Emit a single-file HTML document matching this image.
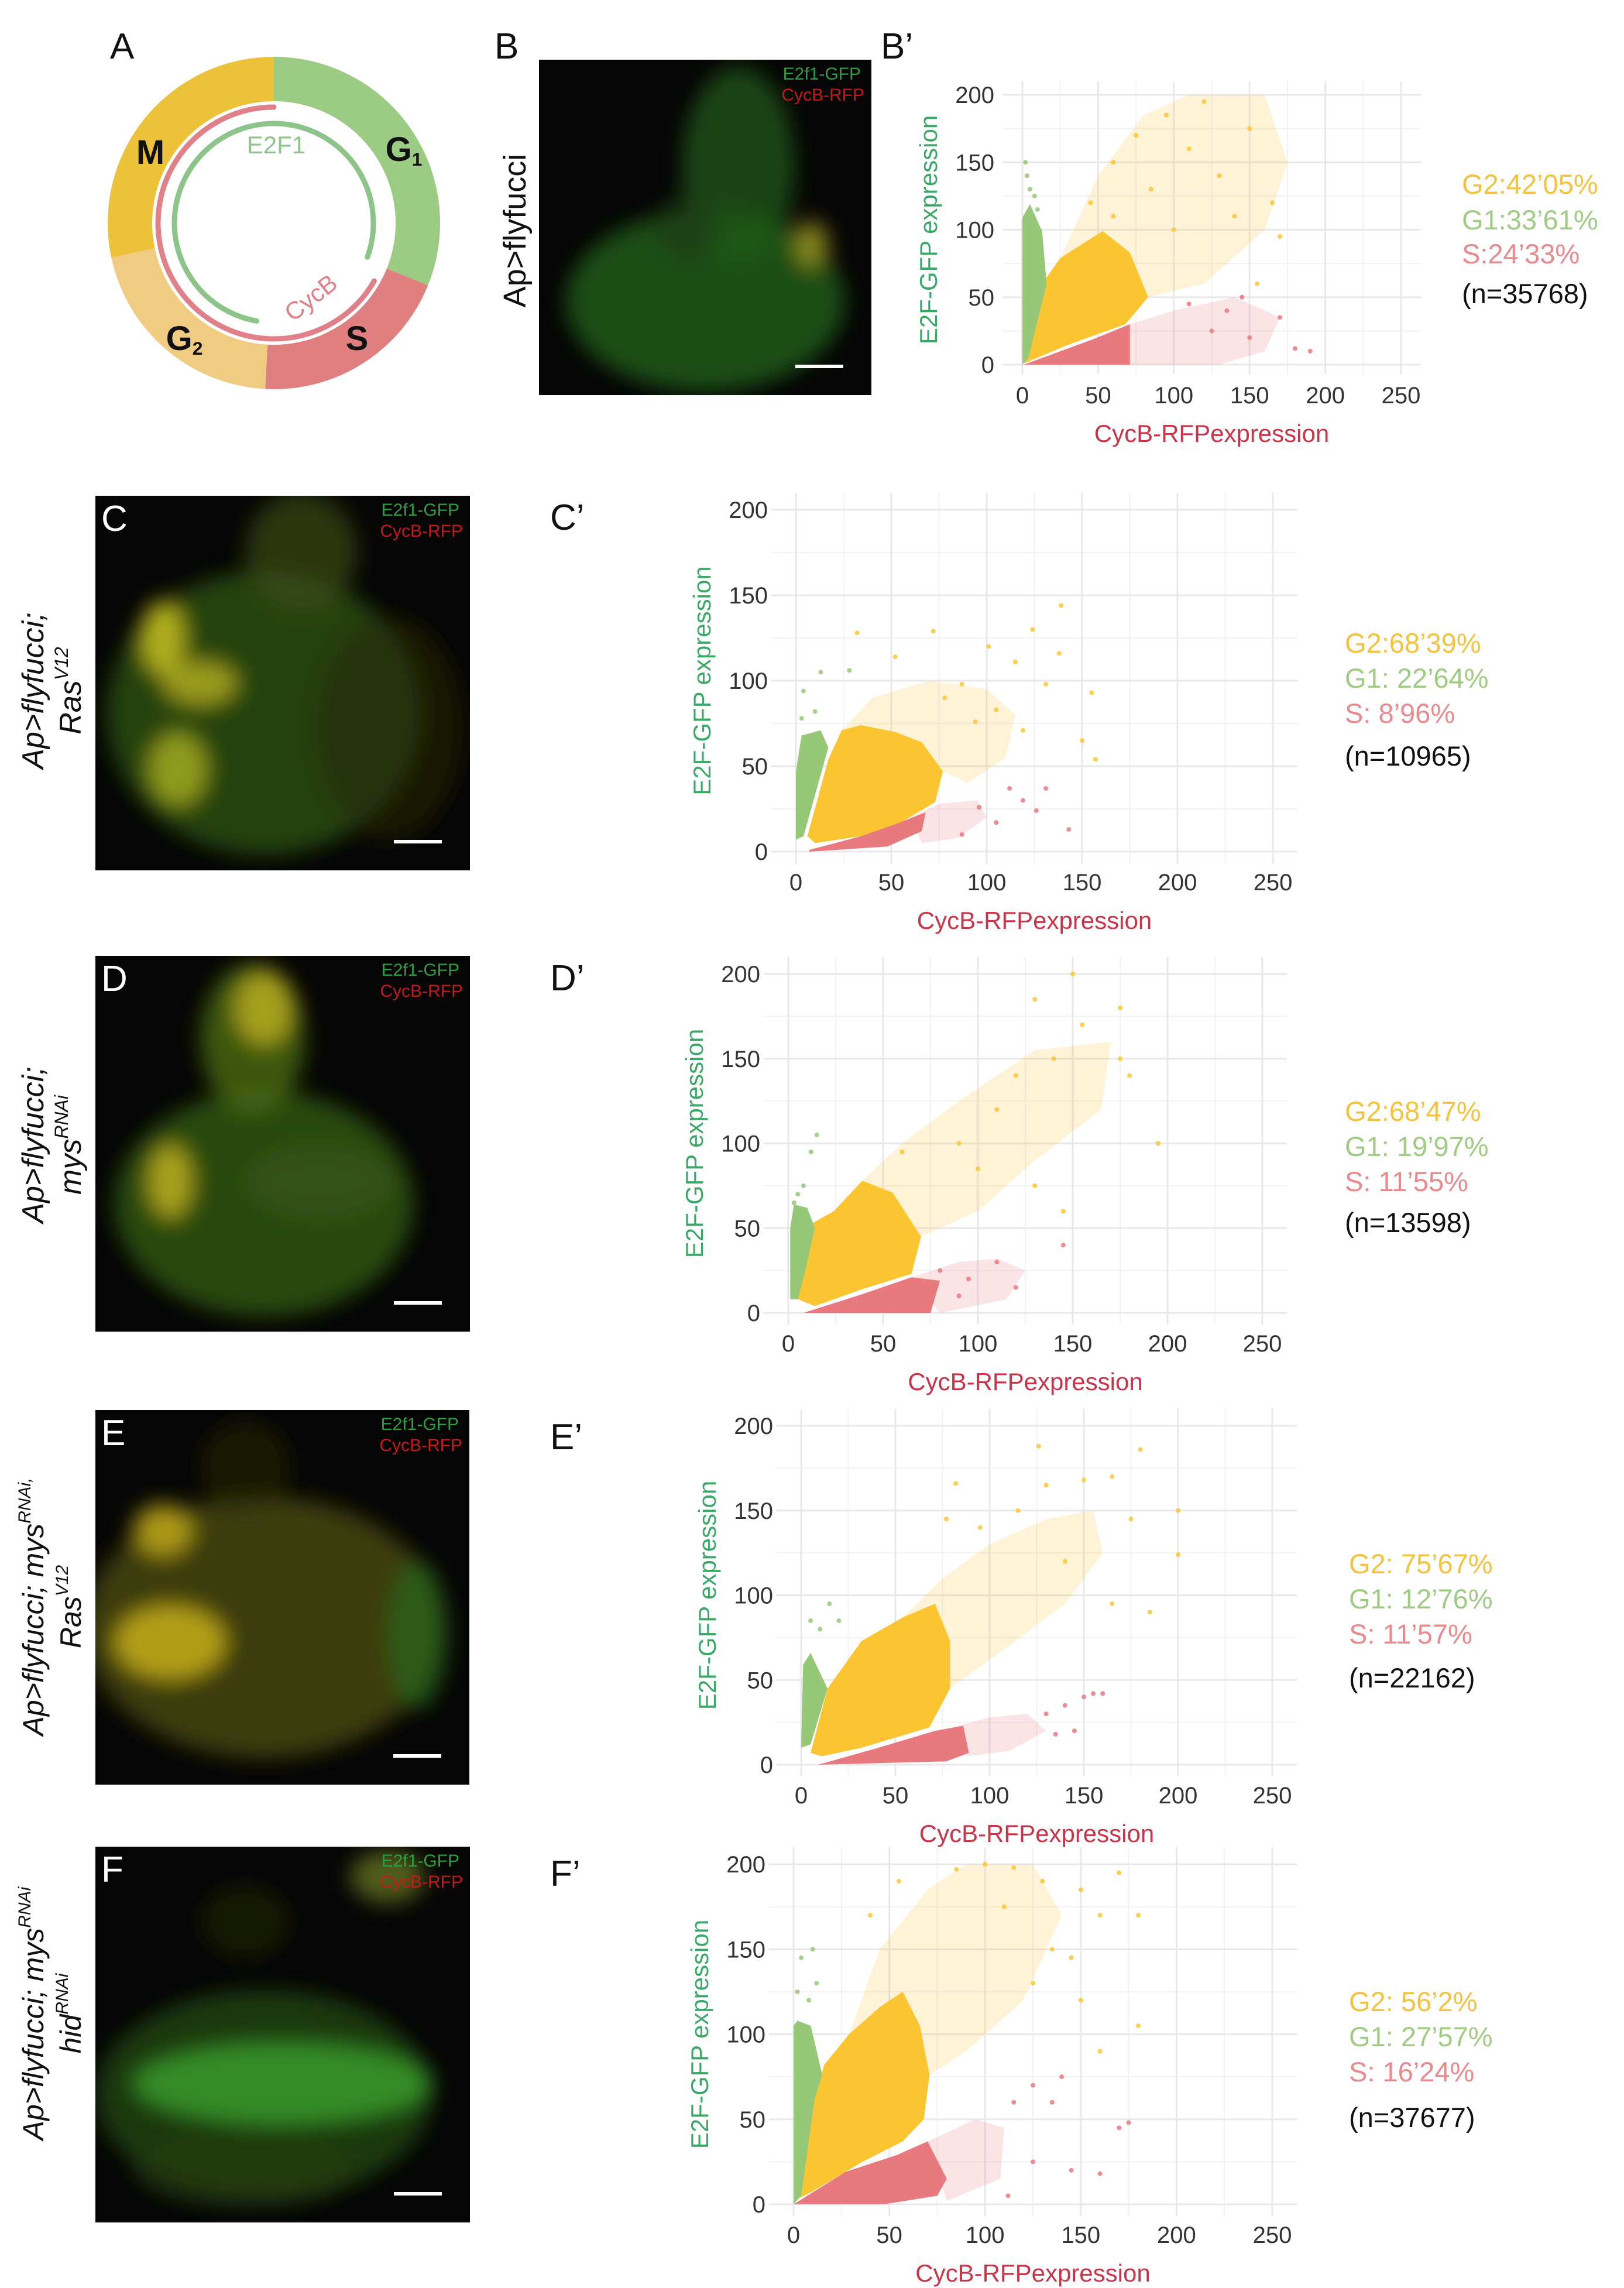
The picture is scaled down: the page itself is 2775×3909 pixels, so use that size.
<!DOCTYPE html>
<html><head><meta charset="utf-8"><style>
html,body{margin:0;padding:0;background:#fff}
svg{display:block}
text{font-family:"Liberation Sans",Arial,sans-serif}
</style></head><body>
<svg id="fig" xmlns="http://www.w3.org/2000/svg" width="2775" height="3909" viewBox="0 0 2775 3909">
<defs id="defs">
<filter id="blur" x="-20%" y="-20%" width="140%" height="140%"><feGaussianBlur stdDeviation="18"/></filter>
</defs>
<rect x="0" y="0" width="2775" height="3909" fill="#ffffff"/>

<g id="diagram">
<text x="188" y="100" font-size="62" fill="#111">A</text>
</g>

<text x="845" y="100" font-size="62" fill="#111">B</text>
<text x="1505" y="100" font-size="62" fill="#111">B’</text>
<text x="940" y="905" font-size="62" fill="#111">C’</text>
<text x="940" y="1692" font-size="62" fill="#111">D’</text>
<text x="940" y="2476" font-size="62" fill="#111">E’</text>
<text x="940" y="3222" font-size="62" fill="#111">F’</text>

<text transform="translate(898,394) rotate(-90)" text-anchor="middle" font-size="54" fill="#111">Ap&gt;flyfucci</text>
<g font-style="italic" font-size="52" fill="#111">
<text transform="translate(74,1180) rotate(-90)" text-anchor="middle">Ap&gt;flyfucci;</text>
<text transform="translate(138,1180) rotate(-90)" text-anchor="middle">Ras<tspan font-size="32" dy="-22">V12</tspan></text>
</g>
<g font-style="italic" font-size="52" fill="#111">
<text transform="translate(74,1956) rotate(-90)" text-anchor="middle">Ap&gt;flyfucci;</text>
<text transform="translate(138,1956) rotate(-90)" text-anchor="middle">mys<tspan font-size="32" dy="-22">RNAi</tspan></text>
</g>
<g font-style="italic" font-size="50" fill="#111">
<text transform="translate(74,2745) rotate(-90)" text-anchor="middle">Ap&gt;flyfucci; mys<tspan font-size="30" dy="-22">RNAi,</tspan></text>
<text transform="translate(138,2745) rotate(-90)" text-anchor="middle">Ras<tspan font-size="30" dy="-22">V12</tspan></text>
</g>
<g font-style="italic" font-size="50" fill="#111">
<text transform="translate(74,3440) rotate(-90)" text-anchor="middle">Ap&gt;flyfucci; mys<tspan font-size="30" dy="-22">RNAi</tspan></text>
<text transform="translate(138,3440) rotate(-90)" text-anchor="middle">hid<tspan font-size="30" dy="-22">RNAi</tspan></text>
</g>

<g id="images"></g>
<g id="charts"></g>
</svg>

<script>
const xTicks = [0, 50, 100, 150, 200, 250];
const yTicks = [0, 50, 100, 150, 200];
const xTickLabels = ["0", "50", "100", "150", "200", "250"];
const yTickLabels = ["0", "50", "100", "150", "200"];

const bG1Core = [[0,0],[0,109],[5,119],[13,99],[16,60],[4,5]];
const bG2Core = [[1,1],[13,60],[25,79],[53,99],[71,83],[83,50],[68,30],[31,15]];
const bG2Faint = [[25,79],[50,140],[80,185],[110,200],[160,200],[175,150],[160,100],[120,60],[83,50],[53,99]];
const bSCore = [[1,0],[47,19],[71,30],[71,0]];
const bSFaint = [[71,30],[100,40],[140,50],[170,35],[160,10],[130,0],[71,0]];
const bG2Pts = [[60,150],[75,170],[95,185],[110,160],[130,140],[150,175],[120,195],[85,130],[140,110],[165,120],[100,100],[45,120],[170,95],[155,60],[60,110]];
const bSPts = [[110,45],[135,40],[150,20],[170,35],[180,12],[125,25],[145,50],[190,10]];
const bG1Pts = [[3,140],[5,130],[8,125],[2,150],[10,115]];
const bLegend = ["G2:42’05%", "G1:33’61%", "S:24’33%", "(n=35768)"];

const cG1Core = [[0,7],[0,47],[3,68],[13,71],[17,61],[10,33],[4,9]];
const cG2Core = [[6,9],[17,54],[24,71],[34,74],[52,70],[66,64],[77,47],[73,29],[55,17],[34,9],[10,5]];
const cG2Faint = [[24,71],[40,90],[70,100],[100,95],[115,80],[110,55],[90,40],[77,47],[66,64]];
const cSCore = [[7,1],[34,9],[52,16],[68,23],[66,12],[48,3],[7,0]];
const cSFaint = [[60,20],[75,28],[95,30],[100,20],[85,8],[66,5]];
const cG2Pts = [[139,144],[124,130],[32,128],[72,129],[138,116],[101,120],[155,93],[150,65],[157,54],[115,111],[131,98],[87,98],[52,114],[105,83],[94,76],[119,71],[78,90]];
const cSPts = [[131,37],[119,30],[126,24],[105,17],[96,26],[143,13],[87,10],[112,37]];
const cG1Pts = [[13,105],[4,94],[28,106],[3,78],[10,82]];
const cLegend = ["G2:68’39%", "G1: 22’64%", "S: 8’96%", "(n=10965)"];

const dG1Core = [[1,8],[1,50],[3,64],[10,62],[14,50],[9,25],[5,8]];
const dG2Core = [[3,9],[8,50],[24,60],[39,78],[55,71],[70,45],[65,23],[39,14],[14,4]];
const dG2Faint = [[39,78],[60,100],[90,125],[130,155],[170,160],[165,120],[130,90],[100,60],[70,45],[55,71]];
const dSCore = [[8,0],[39,11],[65,21],[80,19],[75,0]];
const dSFaint = [[65,21],[90,30],[110,32],[125,25],[115,8],[80,0]];
const dG2Pts = [[150,200],[130,185],[175,180],[155,170],[140,150],[120,140],[110,120],[175,150],[180,140],[90,100],[195,100],[100,85],[60,95],[145,60],[130,75]];
const dSPts = [[80,25],[95,20],[110,30],[90,10],[120,15],[145,40]];
const dG1Pts = [[5,70],[8,75],[3,65],[12,95],[15,105]];
const dLegend = ["G2:68’47%", "G1: 19’97%", "S: 11’55%", "(n=13598)"];

const eG1Core = [[0,10],[1,59],[5,66],[14,45],[5,12]];
const eG2Core = [[5,7],[14,45],[32,73],[54,87],[71,95],[79,73],[79,45],[68,22],[32,10],[11,5]];
const eG2Faint = [[54,87],[75,110],[100,130],[130,145],[155,150],[160,125],[140,95],[110,70],[79,45],[79,73]];
const eSCore = [[9,0],[41,10],[71,20],[86,23],[89,7],[77,2]];
const eSFaint = [[80,22],[100,28],[120,30],[130,20],[110,8],[88,5]];
const eG2Pts = [[126,188],[180,186],[82,166],[130,165],[150,168],[165,170],[77,145],[140,120],[175,145],[200,150],[200,124],[185,90],[165,95],[115,150],[95,140]];
const eSPts = [[150,40],[155,42],[140,35],[130,30],[145,20],[135,18],[160,42]];
const eG1Pts = [[5,85],[10,80],[15,95],[20,85]];
const eLegend = ["G2: 75’67%", "G1: 12’76%", "S: 11’57%", "(n=22162)"];

const fG1Core = [[0,0],[0,105],[2,108],[9,105],[15,76],[11,62],[4,5]];
const fG2Core = [[0,2],[11,62],[16,82],[29,100],[45,116],[57,125],[66,105],[71,76],[68,50],[57,37],[36,25],[9,7]];
const fG2Faint = [[29,100],[45,150],[70,185],[90,200],[125,200],[140,170],[120,120],[90,90],[71,76],[66,105],[57,125]];
const fSCore = [[0,0],[27,19],[54,29],[70,37],[80,15],[75,5],[47,0]];
const fSFaint = [[70,37],[95,50],[110,45],[108,15],[80,2]];
const fG2Pts = [[85,197],[100,200],[115,198],[130,190],[150,185],[160,170],[170,195],[180,170],[135,150],[150,120],[160,90],[180,105],[125,130],[145,145],[110,175],[40,170],[55,190]];
const fSPts = [[125,70],[135,60],[140,75],[115,60],[125,25],[145,20],[160,18],[170,45],[175,48],[112,5]];
const fG1Pts = [[4,145],[10,150],[2,125],[12,130],[8,120]];
const fLegend = ["G2: 56’2%", "G1: 27’57%", "S: 16’24%", "(n=37677)"];

const panels = [
  {id:"b", frame:{x0:1747,x250:2394,y0:623,y200:162}, leg:{x:2498,y:[331,392,450,518]},
   g1:bG1Core,g2:bG2Core,g2f:bG2Faint,s:bSCore,sf:bSFaint,g2p:bG2Pts,sp:bSPts,g1p:bG1Pts,legend:bLegend},
  {id:"c", frame:{x0:1360,x250:2175,y0:1455,y200:871}, leg:{x:2298,y:[1115,1175,1235,1308]},
   g1:cG1Core,g2:cG2Core,g2f:cG2Faint,s:cSCore,sf:cSFaint,g2p:cG2Pts,sp:cSPts,g1p:cG1Pts,legend:cLegend},
  {id:"d", frame:{x0:1347,x250:2157,y0:2243,y200:1664}, leg:{x:2298,y:[1915,1975,2035,2105]},
   g1:dG1Core,g2:dG2Core,g2f:dG2Faint,s:dSCore,sf:dSFaint,g2p:dG2Pts,sp:dSPts,g1p:dG1Pts,legend:dLegend},
  {id:"e", frame:{x0:1369,x250:2174,y0:3015,y200:2436}, leg:{x:2305,y:[2688,2748,2808,2883]},
   g1:eG1Core,g2:eG2Core,g2f:eG2Faint,s:eSCore,sf:eSFaint,g2p:eG2Pts,sp:eSPts,g1p:eG1Pts,legend:eLegend},
  {id:"f", frame:{x0:1356,x250:2174,y0:3766,y200:3185}, leg:{x:2305,y:[3436,3496,3556,3634]},
   g1:fG1Core,g2:fG2Core,g2f:fG2Faint,s:fSCore,sf:fSFaint,g2p:fG2Pts,sp:fSPts,g1p:fG1Pts,legend:fLegend}
];

const NS = "http://www.w3.org/2000/svg";
const COL = {g2:"#fbc532", g1:"#96c878", s:"#e8797f", g2t:"#f4c23e", g1t:"#9fcb82", st:"#e98a8e"};
function mk(tag, attrs, parent){ const e=document.createElementNS(NS,tag); for(const k in attrs) e.setAttribute(k,attrs[k]); if(parent) parent.appendChild(e); return e; }

function drawPanel(p){
  const f=p.frame;
  const X=v=>f.x0+(f.x250-f.x0)*v/250;
  const Y=v=>f.y0-(f.y0-f.y200)*v/200;
  const g=mk("g",{},document.getElementById("charts"));
  
  
  const grid=mk("g",{},g);
  
  
  for(let v=25; v<250; v+=50){ mk("line",{x1:X(v),x2:X(v),y1:Y(-7),y2:Y(210),stroke:"#f2f2f4","stroke-width":2},grid); }
  for(let v=25; v<200; v+=50){ mk("line",{x1:X(-13),x2:X(263),y1:Y(v),y2:Y(v),stroke:"#f2f2f4","stroke-width":2},grid); }
  xTicks.forEach(v=>mk("line",{x1:X(v),x2:X(v),y1:Y(-7),y2:Y(210),stroke:"#e8e8ec","stroke-width":3},grid));
  yTicks.forEach(v=>mk("line",{x1:X(-13),x2:X(263),y1:Y(v),y2:Y(v),stroke:"#e8e8ec","stroke-width":3},grid));
  const poly=(pts,fill,op,name)=>{ const e=mk("polygon",{points:pts.map(q=>X(q[0])+","+Y(q[1])).join(" "),fill:fill,"fill-opacity":op},g);
    
     };
  poly(p.g2f,COL.g2,0.2,"g2-sparse-cloud");
  poly(p.sf,COL.s,0.2,"s-sparse-cloud");
  poly(p.g2,COL.g2,1,"g2-dense-cloud");
  poly(p.g1,COL.g1,1,"g1-dense-cloud");
  poly(p.s,COL.s,1,"s-dense-cloud");
  const dots=(pts,fill,name)=>pts.forEach(q=>{ const c=mk("circle",{cx:X(q[0]),cy:Y(q[1]),r:4,fill:fill,"fill-opacity":0.85},g);
    
     });
  dots(p.g2p,COL.g2,"g2-point"); dots(p.sp,COL.s,"s-point"); dots(p.g1p,COL.g1,"g1-point");
  xTicks.forEach((v,i)=>{ const t=mk("text",{x:X(v),y:f.y0+66,"text-anchor":"middle","font-size":40,fill:"#333"},g); t.textContent=xTickLabels[i];
    
     });
  yTicks.forEach((v,i)=>{ const t=mk("text",{x:f.x0-48,y:Y(v)+14,"text-anchor":"end","font-size":40,fill:"#333"},g); t.textContent=yTickLabels[i];
    
     });
  const xt=mk("text",{x:X(125),y:f.y0+132,"text-anchor":"middle","font-size":42,fill:"#c8354a"},g); xt.textContent="CycB-RFPexpression";
  
  
  const ym=(f.y0+f.y200)/2;
  const yt=mk("text",{transform:`translate(${f.x0-146},${ym}) rotate(-90)`,"text-anchor":"middle","font-size":42,fill:"#3aa866"},g); yt.textContent="E2F-GFP expression";
  
  
  const lc=[COL.g2t,COL.g1t,COL.st,"#111"];
  const ln=['legend-g2','legend-g1','legend-s','legend-n'];
  p.legend.forEach((s,i)=>{ const t=mk("text",{x:p.leg.x,y:p.leg.y[i],"font-size":47,fill:lc[i]},g); t.textContent=s;
    
     });
}
panels.forEach(drawPanel);

const imgs = [
  {id:"b", r:[921,102,568,573], label:null, blobs:[[0.5,0.72,0.42,0.27,"#1d5a1a",0.85],[0.6,0.32,0.17,0.3,"#1f5a1a",0.75],[0.82,0.55,0.05,0.07,"#a09a20",0.8],[0.45,0.5,0.1,0.1,"#203a12",0.6]]},
  {id:"c", r:[163,847,640,640], label:"C", blobs:[[0.45,0.58,0.42,0.38,"#2a5214",0.8],[0.55,0.15,0.15,0.16,"#3a4a15",0.7],[0.18,0.38,0.06,0.1,"#c8c020",0.85],[0.28,0.5,0.1,0.06,"#b8b020",0.8],[0.22,0.73,0.08,0.1,"#aab020",0.8],[0.78,0.62,0.2,0.3,"#2a2a0a",0.6]]},
  {id:"d", r:[163,1633,640,642], label:"D", blobs:[[0.45,0.66,0.4,0.3,"#2f5a14",0.8],[0.42,0.22,0.14,0.2,"#4a6a14",0.8],[0.45,0.14,0.08,0.1,"#c0b020",0.8],[0.2,0.6,0.06,0.1,"#c0b020",0.85],[0.6,0.6,0.2,0.1,"#3a5a14",0.6]]},
  {id:"e", r:[163,2409,639,640], label:"E", blobs:[[0.45,0.58,0.48,0.35,"#4a4a12",0.8],[0.2,0.62,0.15,0.1,"#c8b018",0.85],[0.18,0.32,0.08,0.07,"#c8b018",0.8],[0.86,0.6,0.08,0.2,"#2a6a1a",0.7],[0.4,0.15,0.12,0.12,"#2a2a0a",0.6]]},
  {id:"f", r:[163,3155,640,642], label:"F", blobs:[[0.45,0.66,0.45,0.28,"#1f4a14",0.75],[0.5,0.63,0.4,0.11,"#3a9a2a",0.85],[0.4,0.86,0.3,0.1,"#2a3a10",0.6],[0.78,0.08,0.1,0.07,"#6a7a20",0.75],[0.4,0.2,0.12,0.1,"#1a2a0a",0.6]]}
];
const defs=document.getElementById("defs");
imgs.forEach(im=>{
  const [x,y,w,h]=im.r;
  const cp=mk("clipPath",{id:"clip-"+im.id},defs);
  mk("rect",{x:x,y:y,width:w,height:h},cp);
  const g=mk("g",{},document.getElementById("images"));
  
  
  mk("rect",{x:x,y:y,width:w,height:h,fill:"#050505"},g);
  const cg=mk("g",{"clip-path":"url(#clip-"+im.id+")"},g);
  const bg=mk("g",{filter:"url(#blur)"},cg);
  im.blobs.forEach(b=>mk("ellipse",{cx:x+b[0]*w,cy:y+b[1]*h,rx:b[2]*w,ry:b[3]*h,fill:b[4],"fill-opacity":b[5]},bg));
  const t1=mk("text",{x:x+w-18,y:y+34,"text-anchor":"end","font-size":30,fill:"#2aa040"},g); t1.textContent="E2f1-GFP";
  
  
  const t2=mk("text",{x:x+w-12,y:y+70,"text-anchor":"end","font-size":30,fill:"#c81818"},g); t2.textContent="CycB-RFP";
  
  
  const sb=mk("rect",{x:x+w-130,y:y+h-52,width:82,height:6,fill:"#ffffff"},g);
  
  
  if(im.label){ const l=mk("text",{x:x+10,y:y+60,"font-size":62,fill:"#ffffff"},g); l.textContent=im.label;
    
     }
});

(function(){
  const d=document.getElementById("diagram");
  const cx=468, cy=381, R=284, r=208;
  const pt=(a,rad)=>[cx+rad*Math.sin(a*Math.PI/180), cy-rad*Math.cos(a*Math.PI/180)];
  const seg=(a1,a2,fill,name)=>{
    const p1=pt(a1,R),p2=pt(a2,R),p3=pt(a2,r),p4=pt(a1,r);
    const large=(a2-a1)>180?1:0;
    const e=mk("path",{d:`M${p1} A${R},${R} 0 ${large} 1 ${p2} L${p3} A${r},${r} 0 ${large} 0 ${p4} Z`,fill:fill},d);
    
    
  };
  seg(0,112,"#9ccb84","g1-segment");
  seg(112,183,"#e07f7f","s-segment");
  seg(183,258,"#f0cc82","g2-segment");
  seg(258,360,"#ecc23a","m-segment");
  const arc=(a1,a2,rad,col,name)=>{
    const p1=pt(a1,rad),p2=pt(a2,rad); const large=((a2-a1+360)%360)>180?1:0;
    const e=mk("path",{d:`M${p1} A${rad},${rad} 0 ${large} 1 ${p2}`,fill:"none",stroke:col,"stroke-width":9,"stroke-linecap":"round"},d);
    
    
  };
  arc(190,110+360,170,"#8cc48a","e2f1-arc");
  arc(120,360,198,"#e08088","cycb-arc");
  const lab=(x,y,s,sub,col,sz,w,name,rot)=>{
    const t=mk("text",{x:x,y:y,"font-size":sz,fill:col,"font-weight":w,"text-anchor":"middle"},d);
    if(rot) t.setAttribute("transform",`rotate(${rot} ${x} ${y})`);
    t.textContent=s;
    if(sub){ const ts=mk("tspan",{"font-size":sz*0.55,dy:8},t); ts.textContent=sub; }
    
    
  };
  lab(257,280,"M",null,"#111",58,"bold","label-m");
  lab(690,275,"G",'1',"#111",58,"bold","label-g1");
  lab(315,598,"G",'2',"#111",58,"bold","label-g2");
  lab(610,598,"S",null,"#111",58,"bold","label-s");
  lab(472,262,"E2F1",null,"#8cc48a",42,"normal","label-e2f1");
  lab(540,520,"CycB",null,"#e08088",42,"normal","label-cycb",-38);
})();
</script>
</body></html>
